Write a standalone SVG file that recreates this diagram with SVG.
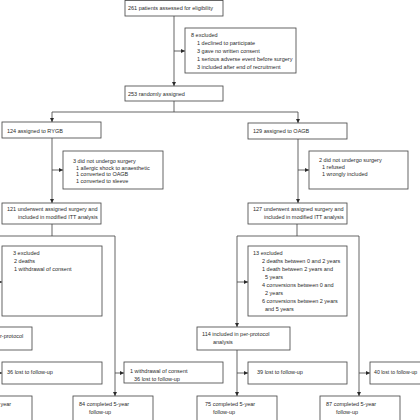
<svg xmlns="http://www.w3.org/2000/svg" width="420" height="420" viewBox="0 0 420 420">
<style>
rect{fill:#fff;stroke:#4a4a4a;stroke-width:0.85}
text{font-family:"Liberation Sans",Arial,sans-serif;font-size:5.5px;fill:#2a2a2a}
.c path{fill:none;stroke:#4a4a4a;stroke-width:0.85}
</style>
<defs>
<marker id="ah" viewBox="0 0 10 10" markerWidth="4.5" markerHeight="4.5" refX="10" refY="5" orient="auto" markerUnits="userSpaceOnUse">
<path d="M0,0 L10,5 L0,10 z" fill="#2a2a2a"/>
</marker>
</defs>
<rect x="0" y="0" width="420" height="420" style="stroke:none"/>
<g class="c" id="connectors">
<path d="M174 16 V86" marker-end="url(#ah)"/>
<path d="M174 51 H185" marker-end="url(#ah)"/>
<path d="M174 101 V112 H52 V122" marker-end="url(#ah)"/>
<path d="M174 112 H298 V123" marker-end="url(#ah)"/>
<path d="M52 138 V203" marker-end="url(#ah)"/>
<path d="M52 170 H63" marker-end="url(#ah)"/>
<path d="M298 139 V203" marker-end="url(#ah)"/>
<path d="M298 170 H309" marker-end="url(#ah)"/>
<path d="M52 224 V236"/>
<path d="M-2 236 H115 V396" marker-end="url(#ah)"/>
<path d="M115 373 H124" marker-end="url(#ah)"/>
<path d="M-6 282 H2" marker-end="url(#ah)"/>
<path d="M-6 373 H2" marker-end="url(#ah)"/>
<path d="M297 224 V236"/>
<path d="M237 236 H359 V396" marker-end="url(#ah)"/>
<path d="M237 236 V327" marker-end="url(#ah)"/>
<path d="M237 282 H248" marker-end="url(#ah)"/>
<path d="M237 350 V396" marker-end="url(#ah)"/>
<path d="M237 373 H248" marker-end="url(#ah)"/>
<path d="M359 373 H370" marker-end="url(#ah)"/>
</g>
<g id="n_assessed"><rect x="125" y="0.5" width="98" height="15.5"/><text x="128" y="10">261 patients assessed for eligibility</text></g>
<g id="n_excl8"><rect x="185" y="28" width="111" height="45"/>
<text x="191" y="37">8 excluded</text>
<text x="197" y="45">1 declined to participate</text>
<text x="197" y="53">3 gave no written consent</text>
<text x="197" y="61">1 serious adverse event before surgery</text>
<text x="197" y="68.5">3 included after end of recruitment</text></g>
<g id="n_random"><rect x="125" y="86" width="98" height="15"/><text x="128" y="95.5">253 randomly assigned</text></g>
<g id="n_rygb"><rect x="2" y="122" width="99" height="16"/><text x="7" y="132.5">124 assigned to RYGB</text></g>
<g id="n_oagb"><rect x="248" y="123" width="99" height="16"/><text x="253" y="133">129 assigned to OAGB</text></g>
<g id="n_nosurg3"><rect x="63" y="151" width="100" height="38"/>
<text x="73" y="163">3 did not undergo surgery</text>
<text x="76" y="169.5">1 allergic shock to anaesthetic</text>
<text x="76" y="176">1 converted to OAGB</text>
<text x="76" y="182.5">1 converted to sleeve</text></g>
<g id="n_nosurg2"><rect x="309" y="151" width="99" height="38"/>
<text x="319" y="162">2 did not undergo surgery</text>
<text x="322" y="169">1 refused</text>
<text x="322" y="176">1 wrongly included</text></g>
<g id="n_itt121"><rect x="2" y="203" width="99" height="21"/>
<text x="7" y="211">121 underwent assigned surgery and</text>
<text x="18" y="219">included in modified ITT analysis</text></g>
<g id="n_itt127"><rect x="248" y="203" width="99" height="21"/>
<text x="253" y="211">127 underwent assigned surgery and</text>
<text x="264" y="219">included in modified ITT analysis</text></g>
<g id="n_excl3"><rect x="2" y="246" width="100" height="70"/>
<text x="13" y="255">3 excluded</text>
<text x="14" y="263">2 deaths</text>
<text x="14" y="271">1 withdrawal of consent</text></g>
<g id="n_excl13"><rect x="248" y="246" width="99" height="70"/>
<text x="253" y="255">13 excluded</text>
<text x="262" y="263">2 deaths between 0 and 2 years</text>
<text x="262" y="271">1 death between 2 years and</text>
<text x="265" y="279">5 years</text>
<text x="262" y="287">4 conversions between 0 and</text>
<text x="265" y="295">2 years</text>
<text x="262" y="303">6 conversions between 2 years</text>
<text x="265" y="310.5">and 5 years</text></g>
<g id="n_pp_left"><rect x="-20" y="327" width="52" height="23"/><text x="0" y="338">r-protocol</text></g>
<g id="n_pp114"><rect x="197" y="327" width="93" height="23"/>
<text x="202" y="336">114 included in per-protocol</text>
<text x="213" y="344">analysis</text></g>
<g id="n_lost36a"><rect x="2" y="362" width="100" height="22"/><text x="7" y="374">36 lost to follow-up</text></g>
<g id="n_wd"><rect x="124" y="362" width="99" height="21"/>
<text x="130" y="373">1 withdrawal of consent</text>
<text x="134" y="381">36 lost to follow-up</text></g>
<g id="n_lost39"><rect x="248" y="362" width="99" height="22"/><text x="257" y="374">39 lost to follow-up</text></g>
<g id="n_lost40"><rect x="370" y="362" width="60" height="22"/><text x="374" y="374" style="font-size:5.2px">40 lost to follow-up</text></g>
<g id="n_left_year"><rect x="-20" y="396" width="52" height="30"/><text x="0.5" y="406">year</text></g>
<g id="n_c84"><rect x="73" y="396" width="80" height="30"/>
<text x="79" y="406">84 completed 5-year</text>
<text x="89" y="414">follow-up</text></g>
<g id="n_c75"><rect x="197" y="396" width="80" height="30"/>
<text x="205" y="406">75 completed 5-year</text>
<text x="213" y="414">follow-up</text></g>
<g id="n_c87"><rect x="320" y="396" width="80" height="30"/>
<text x="326" y="406">87 completed 5-year</text>
<text x="336" y="414">follow-up</text></g>
</svg>
